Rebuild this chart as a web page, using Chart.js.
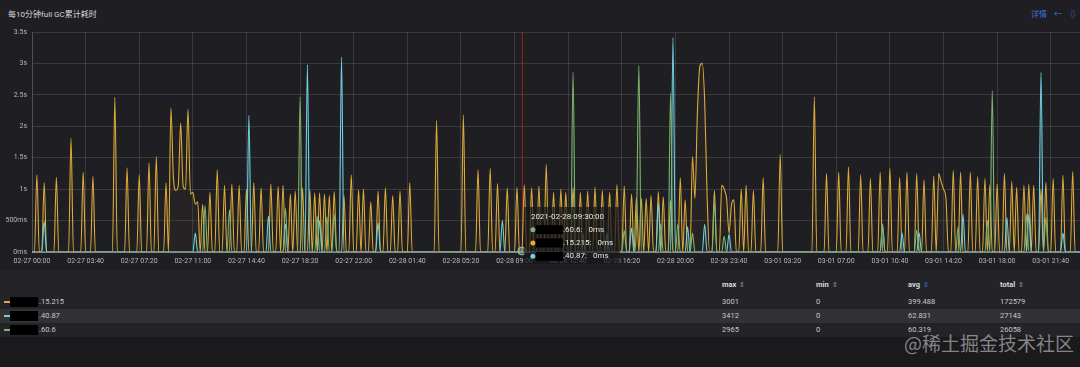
<!DOCTYPE html>
<html>
<head>
<meta charset="utf-8">
<script src="https://cdn.jsdelivr.net/npm/chart.js@4/dist/chart.umd.min.js"></script>
<style>
  body { margin: 0; width: 1080px; height: 367px; overflow: hidden; background: #1f1f23; position: relative;
         font-family: Roboto, "Noto Sans CJK SC", sans-serif; color: #d8d9da; }
  #title { position: absolute; left: 8px; top: 8px; font-size: 8px; color: #d8d9da; }
  #tools { position: absolute; right: 3px; top: 8px; font-size: 8px; color: #3d71d9; }
  #tools span { margin-left: 7px; }
  #wrap { position: absolute; left: 0; top: 22px; width: 1080px; height: 246px; }
  #legend { position: absolute; left: 0; top: 270px; width: 1080px; height: 67px; background: #242428; font-size: 7.5px; }
  .row { position: absolute; left: 0; width: 1080px; height: 14px; line-height: 14px; }
  .row.alt { background: #313136; }
  .cell { position: absolute; top: 0; white-space: nowrap; }
  .hdr { font-weight: bold; color: #d8d9da; }
  .hdr .s { color: #8e8e8e; font-weight: normal; font-size: 7px; margin-left: 3px; }
  .dash { position: absolute; left: 4px; top: 6px; width: 6px; height: 2px; }
  .mask { position: absolute; left: 10px; top: 2px; width: 28px; height: 10px; background: #000; }
  #bottom { position: absolute; left: 0; top: 337px; width: 1080px; height: 30px; background: #1a1a1d; }
  #mark { position: absolute; left: 904px; top: 329px; font-size: 19px; color: rgba(205,205,205,0.6);
          font-family: "Noto Sans CJK SC", sans-serif; }
</style>
</head>
<body>
<div id="title">每10分钟full GC累计耗时</div>
<div id="tools"><span>详情</span><span>←</span><span>⇩</span></div>
<div id="wrap"><canvas id="gc"></canvas></div>
<div id="legend"></div>
<div id="bottom"></div>
<div id="mark">@稀土掘金技术社区</div>

<script>
// 10-minute buckets starting 2021-02-27 00:00
const pointCount = 431;
const tickStep = 22;   // one x label every 3h40m
const xTickLabels = ['02-27 00:00', '02-27 03:40', '02-27 07:20', '02-27 11:00', '02-27 14:40', '02-27 18:20',
  '02-27 22:00', '02-28 01:40', '02-28 05:20', '02-28 09:00', '02-28 12:40', '02-28 16:20', '02-28 20:00',
  '02-28 23:40', '03-01 03:20', '03-01 07:00', '03-01 10:40', '03-01 14:20', '03-01 18:00', '03-01 21:40'];
const yTickLabels = ['0ms', '500ms', '1s', '1.5s', '2s', '2.5s', '3s', '3.5s'];

const seriesNames = ['.15.215', '.40.87', '.60.6'];
const seriesColors = ['#dcab3a', '#6ed0e0', '#7eb26d'];

// non-zero buckets as [bucket, ms]; every other bucket reads 0ms
const yellowPeaks = [
  [2,1230],[5,1100],[10,1190],[16,1810],[21,1270],[25,1200],[34,2460],[39,1340],[44,1230],[48,1420],[51,1520],[55,1100],
  [57,2290],[58,1200],[59,980],[60,1050],[61,2050],[62,1050],[63,1000],[64,2270],[65,920],[66,950],[67,760],[68,800],
  [70,760],[73,950],[76,1310],[79,1060],[82,1080],[85,1060],[88,1000],[91,1100],[94,1020],[98,1080],[101,1040],
  [103,1060],[106,920],[108,970],[111,1020],[114,990],[116,940],[118,940],[120,920],[122,900],[124,960],[128,900],
  [131,1230],[134,990],[136,1000],[139,800],[142,970],[145,1020],[148,900],[151,970],[155,1100],
  [166,2090],[177,2180],[183,1310],[188,1330],[191,1090],[195,1020],[199,1030],
  [202,1070],[205,1020],[208,1050],[211,1390],[214,950],[217,1000],[219,950],[222,1030],[225,950],[228,970],
  [231,1030],[234,980],[237,950],[240,1070],[243,1050],[246,920],[248,870],[250,860],[252,850],[254,900],[257,960],
  [259,880],[262,820],[266,1180],[268,830],
  [271,1520],[272,850],[273,2200],[274,2950],[275,3001],[276,2400],[277,900],
  [280,980],[283,1060],[284,1000],[285,850],[286,300],[287,750],[288,830],[291,1000],[293,1060],[296,980],[300,1180],
  [307,1550],[321,2470],[326,1250],[331,1270],[335,1350],[340,1230],[344,1170],[348,1270],[352,1330],[356,1190],
  [359,1270],[363,1250],[366,1150],[370,1210],[372,1250],[373,1120],[374,1000],[375,850],[378,1300],[381,1270],
  [385,1270],[388,1200],[391,1170],[393,1070],[396,1080],[399,1250],[402,1120],[404,1030],[407,1060],[409,1080],
  [411,1060],[414,1000],[416,1110],[419,1170],[423,1220],[427,1280]
];
const cyanPeaks = [
  [5,490],[67,300],[89,2170],[97,570],[104,450],[113,2980],[118,500],[127,3100],[142,470],[193,500],[236,300],
  [246,380],[257,780],[263,3412],[269,400],[276,440],[286,280],[349,410],[357,300],[364,300],[382,600],[400,550],
  [409,600],[414,2860],[423,300]
];
const greenPeaks = [
  [71,740],[81,670],[104,700],[110,2470],[117,570],[121,560],[124,600],[222,2860],[226,300],[243,340],[248,400],
  [249,2965],[258,450],[262,2530],[265,450],[271,300],[280,800],[284,250],[349,450],[363,350],[380,400],[392,500],
  [394,2570],[408,600],[416,550]
];

// legend table
const legendMax = [3001, 3412, 2965];
const legendMin = [0, 0, 0];
const legendAvg = ['399.488', '62.831', '60.319'];
const legendTotal = [172579, 27143, 26058];

// hovered bucket (2021-02-28 09:30)
const hoverIndex = 201;
const hoverTitle = '2021-02-28 09:30:00';
const hoverOrder = [2, 0, 1];
const hoverValues = ['0ms', '0ms', '0ms'];

function expand(peaks) {
  const pts = [];
  for (let i = 0; i < pointCount; i++) pts.push({ x: i, y: 0 });
  peaks.forEach(([i, v]) => { pts[i].y = v; });
  return pts;
}

function alpha(hex, a) {
  const n = parseInt(hex.slice(1), 16);
  return `rgba(${n >> 16}, ${(n >> 8) & 255}, ${n & 255}, ${a})`;
}

// red cursor line, hover marker and the tooltip box
const hoverPlugin = {
  id: 'hover',
  beforeDatasetsDraw(chart) {
    const { ctx, chartArea } = chart;
    const px = chart.scales.x.getPixelForValue(hoverIndex);
    ctx.save();
    ctx.strokeStyle = 'rgba(170, 30, 30, 0.9)';
    ctx.lineWidth = 1;
    ctx.beginPath();
    ctx.moveTo(px + 0.5, chartArea.top);
    ctx.lineTo(px + 0.5, chartArea.bottom);
    ctx.stroke();
    ctx.restore();
  },
  afterDraw(chart) {
    const { ctx, chartArea } = chart;
    const px = chart.scales.x.getPixelForValue(hoverIndex);
    const b = chartArea.bottom;
    ctx.save();
    // marker at the hovered point
    ctx.fillStyle = 'rgba(126, 178, 140, 0.55)';
    ctx.strokeStyle = 'rgba(170, 210, 190, 0.8)';
    ctx.beginPath();
    ctx.arc(px, b - 1, 4, 0, Math.PI * 2);
    ctx.fill();
    ctx.stroke();

    ctx.fillStyle = 'rgba(24, 24, 27, 0.72)';
    ctx.fillRect(px + 2, b - 45, 96, 57);

    ctx.font = '8px Roboto';
    ctx.textBaseline = 'middle';
    ctx.fillStyle = '#e6e6e6';
    ctx.fillText(hoverTitle, px + 9, b - 35.5);
    hoverOrder.forEach((s, k) => {
      const y = b - 22.3 + k * 13.3;
      ctx.fillStyle = seriesColors[s];
      ctx.beginPath();
      ctx.arc(px + 11, y, 2.5, 0, Math.PI * 2);
      ctx.fill();
      ctx.fillStyle = '#000';
      ctx.fillRect(px + 14, y - 4.5, 27, 9);
      ctx.fillStyle = '#e6e6e6';
      const label = seriesNames[s] + ':';
      ctx.fillText(label, px + 41, y);
      ctx.fillText(hoverValues[s], px + 41 + ctx.measureText(label).width + 6, y);
    });
    ctx.restore();
  }
};

const datasets = [yellowPeaks, cyanPeaks, greenPeaks].map((peaks, s) => ({
  label: seriesNames[s],
  data: expand(peaks),
  borderColor: seriesColors[s],
  backgroundColor: alpha(seriesColors[s], 0.035),
  borderWidth: 1.1,
  fill: 'origin',
  pointRadius: 0,
  cubicInterpolationMode: 'monotone',
  order: 3 - s
}));

new Chart(document.getElementById('gc'), {
  type: 'line',
  data: { datasets: datasets },
  plugins: [hoverPlugin],
  options: {
    responsive: true,
    maintainAspectRatio: false,
    animation: false,
    layout: { padding: { top: 10, left: 0, right: 0, bottom: 0 } },
    plugins: { legend: { display: false }, tooltip: { enabled: false } },
    scales: {
      x: {
        type: 'linear',
        min: 0,
        max: pointCount - 1,
        afterBuildTicks: scale => { scale.ticks = xTickLabels.map((_, k) => ({ value: k * tickStep })); },
        afterFit: scale => { scale.height = 16; },
        ticks: {
          autoSkip: false,
          maxRotation: 0,
          padding: 5,
          color: '#b9b9bb',
          font: { family: 'Roboto', size: 7 },
          callback: value => xTickLabels[Math.round(value / tickStep)]
        },
        grid: { color: 'rgba(255,255,255,0.12)', drawTicks: false },
        border: { color: '#8a8a8e' }
      },
      y: {
        min: 0,
        max: 3500,
        afterFit: scale => { scale.width = 32; },
        ticks: {
          stepSize: 500,
          padding: 5,
          color: '#b9b9bb',
          font: { family: 'Roboto', size: 7 },
          callback: value => yTickLabels[Math.round(value / 500)]
        },
        grid: { color: 'rgba(255,255,255,0.12)', drawTicks: false },
        border: { color: 'rgba(255,255,255,0.12)' }
      }
    }
  }
});

// legend table below the graph
const legend = document.getElementById('legend');
const cols = [722, 816, 908, 1000];
let html = '<div class="row hdr" style="top:8px">';
['max', 'min', 'avg', 'total'].forEach((h, c) => {
  html += `<div class="cell" style="left:${cols[c]}px">${h}<span class="s" ${c === 2 ? 'style="color:#3d71d9"' : ''}>⇕</span></div>`;
});
html += '</div>';
seriesNames.forEach((name, s) => {
  const top = 25 + s * 14;
  html += `<div class="row${s === 1 ? ' alt' : ''}" style="top:${top}px;color:#c8c8c8">` +
    `<div class="dash" style="background:${seriesColors[s]}"></div><div class="mask"></div>` +
    `<div class="cell" style="left:39px">${name}</div>` +
    `<div class="cell" style="left:${cols[0]}px">${legendMax[s]}</div>` +
    `<div class="cell" style="left:${cols[1]}px">${legendMin[s]}</div>` +
    `<div class="cell" style="left:${cols[2]}px">${legendAvg[s]}</div>` +
    `<div class="cell" style="left:${cols[3]}px">${legendTotal[s]}</div></div>`;
});
legend.innerHTML = html;
</script>
</body>
</html>
